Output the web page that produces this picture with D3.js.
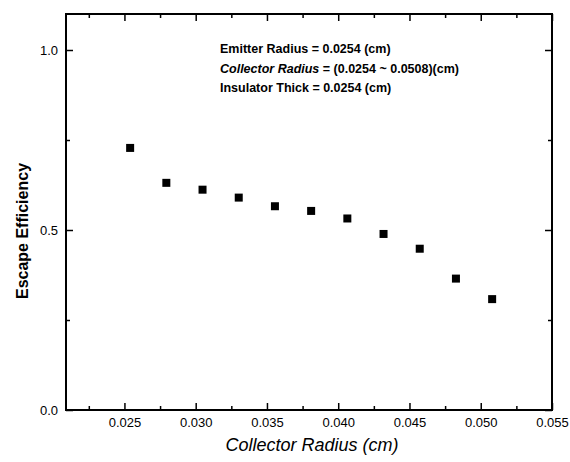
<!DOCTYPE html>
<html>
<head>
<meta charset="utf-8">
<script src="https://cdn.jsdelivr.net/npm/d3@7"></script>
<style>
  body { margin: 0; background: #fff; }
  svg { font-family: "Liberation Sans", Arial, sans-serif; }
</style>
</head>
<body>
<script>
// collector radius (cm) and escape efficiency
var radius = [0.0254, 0.02794, 0.03048, 0.03302, 0.03556, 0.0381, 0.04064, 0.04318, 0.04572, 0.04826, 0.0508];
var efficiency = [0.728, 0.631, 0.612, 0.590, 0.566, 0.553, 0.532, 0.489, 0.448, 0.365, 0.308];

var xMajor = [0.025, 0.030, 0.035, 0.040, 0.045, 0.050, 0.055];
var xMinor = [0.0225, 0.0275, 0.0325, 0.0375, 0.0425, 0.0475, 0.0525];
var yMajor = [0.0, 0.5, 1.0];
var yMinor = [0.25, 0.75];

var notes = [
  ["", "Emitter Radius = 0.0254 (cm)"],
  ["Collector Radius", " = (0.0254 ~ 0.0508)(cm)"],
  ["", "Insulator Thick = 0.0254 (cm)"]
];

var width = 570, height = 462;
var plotLeft = 66, plotRight = 552, plotTop = 14, plotBottom = 410;

var svg = d3.select("body")
            .append("svg")
            .attr("width", width)
            .attr("height", height);

var x = d3.scaleLinear().domain([0.0209, 0.055]).range([plotLeft, plotRight]);
var y = d3.scaleLinear().domain([0, 1.1]).range([plotBottom, plotTop]);

var fmtX = d3.format(".3f");
var fmtY = d3.format(".1f");

function styleAxis(g) {
  g.select(".domain").remove();
  g.selectAll("line").attr("stroke", "#000").attr("stroke-width", 1.5);
  g.selectAll("text").attr("fill", "#000").style("font-size", "13px");
}

// bottom
svg.append("g").attr("transform", "translate(0," + plotBottom + ")")
   .call(d3.axisBottom(x).tickValues(xMajor).tickFormat(fmtX).tickSizeInner(-7).tickPadding(8))
   .call(styleAxis);
svg.append("g").attr("transform", "translate(0," + plotBottom + ")")
   .call(d3.axisBottom(x).tickValues(xMinor).tickFormat("").tickSizeInner(-4))
   .call(styleAxis);
// top
svg.append("g").attr("transform", "translate(0," + plotTop + ")")
   .call(d3.axisTop(x).tickValues(xMajor).tickFormat("").tickSizeInner(-7))
   .call(styleAxis);
svg.append("g").attr("transform", "translate(0," + plotTop + ")")
   .call(d3.axisTop(x).tickValues(xMinor).tickFormat("").tickSizeInner(-4))
   .call(styleAxis);
// left
svg.append("g").attr("transform", "translate(" + plotLeft + ",0)")
   .call(d3.axisLeft(y).tickValues(yMajor).tickFormat(fmtY).tickSizeInner(-7).tickPadding(8))
   .call(styleAxis);
svg.append("g").attr("transform", "translate(" + plotLeft + ",0)")
   .call(d3.axisLeft(y).tickValues(yMinor).tickFormat("").tickSizeInner(-4))
   .call(styleAxis);
// right
svg.append("g").attr("transform", "translate(" + plotRight + ",0)")
   .call(d3.axisRight(y).tickValues(yMajor).tickFormat("").tickSizeInner(-7))
   .call(styleAxis);
svg.append("g").attr("transform", "translate(" + plotRight + ",0)")
   .call(d3.axisRight(y).tickValues(yMinor).tickFormat("").tickSizeInner(-4))
   .call(styleAxis);

// frame
svg.append("rect")
   .attr("x", plotLeft)
   .attr("y", plotTop)
   .attr("width", plotRight - plotLeft)
   .attr("height", plotBottom - plotTop)
   .attr("fill", "none")
   .attr("stroke", "#000")
   .attr("stroke-width", 2);

// points
svg.selectAll("rect.pt")
   .data(radius)
   .enter()
   .append("rect")
   .attr("class", "pt")
   .attr("x", function(d) { return x(d) - 4; })
   .attr("y", function(d, i) { return y(efficiency[i]) - 4; })
   .attr("width", 8)
   .attr("height", 8)
   .attr("fill", "#000");

// notes
var noteText = svg.selectAll("text.note")
   .data(notes)
   .enter()
   .append("text")
   .attr("class", "note")
   .attr("x", 220)
   .attr("y", function(d, i) { return 53 + i * 19.5; })
   .attr("fill", "#000")
   .style("font-size", "12.5px")
   .style("font-weight", "bold");
noteText.append("tspan").style("font-style", "italic").text(function(d) { return d[0]; });
noteText.append("tspan").text(function(d) { return d[1]; });

// axis titles
svg.append("text")
   .text("Collector Radius (cm)")
   .attr("x", 312)
   .attr("y", 451)
   .attr("text-anchor", "middle")
   .attr("fill", "#000")
   .style("font-size", "18px")
   .style("font-style", "italic");

svg.append("text")
   .text("Escape Efficiency")
   .attr("transform", "translate(28,231) rotate(-90)")
   .attr("text-anchor", "middle")
   .attr("fill", "#000")
   .style("font-size", "16px")
   .style("font-weight", "bold");
</script>
</body>
</html>
